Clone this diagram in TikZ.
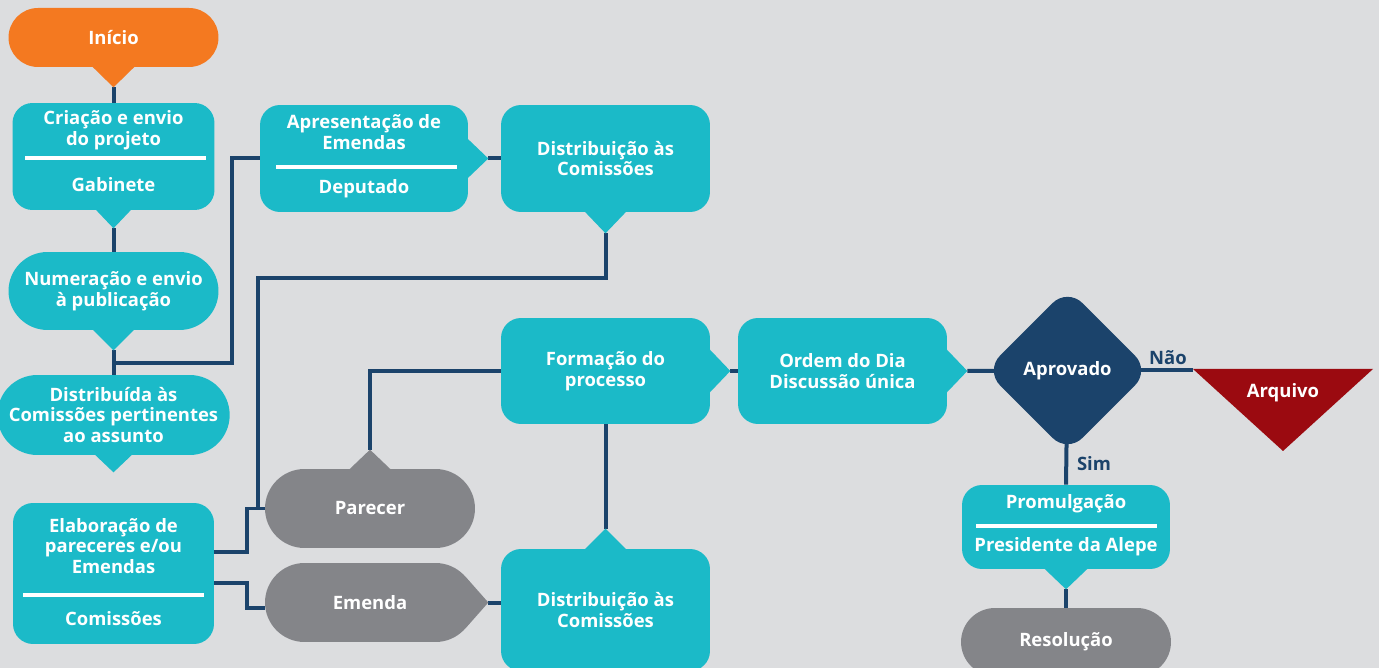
\documentclass[tikz,border=0pt]{standalone}
\usepackage{fontspec}
\setmainfont{Open Sans}
\usetikzlibrary{shapes.misc,shapes.geometric,positioning}

\definecolor{bgGray}{HTML}{DCDDDF}
\definecolor{tealBox}{HTML}{1BBAC8}
\definecolor{orangeBox}{HTML}{F47920}
\definecolor{navyLine}{HTML}{1B436B}
\definecolor{grayBox}{HTML}{848589}
\definecolor{redBox}{HTML}{9B0A10}

\pgfdeclarelayer{bg}
\pgfdeclarelayer{links}
\pgfsetlayers{bg,links,main}

% pointers of the callout boxes: node, colour, half base, depth
\newcommand{\tipdown}[4]{\fill[#2] ([xshift=-#3,yshift=0.04cm]#1.south) -- ([xshift=#3,yshift=0.04cm]#1.south) -- ([yshift=-#4]#1.south) coordinate (#1tip) -- cycle;}
\newcommand{\tipup}[4]{\fill[#2] ([xshift=-#3,yshift=-0.04cm]#1.north) -- ([xshift=#3,yshift=-0.04cm]#1.north) -- ([yshift=#4]#1.north) coordinate (#1tip) -- cycle;}
\newcommand{\tipright}[4]{\fill[#2] ([yshift=#3,xshift=-0.04cm]#1.east) -- ([yshift=-#3,xshift=-0.04cm]#1.east) -- ([xshift=#4]#1.east) coordinate (#1tip) -- cycle;}

\begin{document}
\begin{tikzpicture}[
    x=0.02cm, y=-0.02cm,
    txt/.style={text=white, font=\bfseries\fontsize{10.5}{11.9}\selectfont, align=center, inner sep=0pt},
    box/.style={rectangle, fill=tealBox, rounded corners=0.4cm, txt},
    pill/.style={rounded rectangle, fill=tealBox, txt},
    greypill/.style={rounded rectangle, fill=grayBox, txt},
    lbl/.style={text=navyLine, font=\bfseries\fontsize{10.5}{11.9}\selectfont, inner sep=0pt},
    sep/.style={draw=white, line width=0.07cm},
    link/.style={draw=navyLine, line width=0.08cm},
]
    \useasboundingbox (0,0) rectangle (1379,668);
    \begin{pgfonlayer}{bg}
        \fill[bgGray] (0,0) rectangle (1379,668);
    \end{pgfonlayer}

    % Left column
    \node[pill, fill=orangeBox, minimum width=4.2cm, minimum height=1.18cm] (inicio) at (113.5,37.5) {Início};
    \tipdown{inicio}{orangeBox}{0.45cm}{0.4cm}

    \node[box, minimum width=4.04cm, minimum height=2.14cm] (criacao) at (113.5,156.5) {};
    \tipdown{criacao}{tealBox}{0.38cm}{0.36cm}
    \node[txt] (criacaoA) at (113.5,130) {Criação e envio\\do projeto};
    \draw[sep] (25,158) -- (206,158);
    \node[txt] (criacaoB) at (113.5,185) {Gabinete};

    \node[pill, minimum width=4.2cm, minimum height=1.56cm] (numer) at (113.5,291) {Numeração e envio\\à publicação};
    \tipdown{numer}{tealBox}{0.44cm}{0.4cm}

    \node[pill, minimum width=4.28cm, minimum height=1.6cm] (distrib) at (113.5,415) {Distribuída às\\Comissões pertinentes\\ao assunto};
    \tipdown{distrib}{tealBox}{0.4cm}{0.34cm}

    \node[box, minimum width=4.02cm, minimum height=2.82cm] (elab) at (113.5,573.5) {};
    \node[txt] (elabA) at (113.5,546) {Elaboração de\\pareceres e/ou\\Emendas};
    \draw[sep] (23,595) -- (204,595);
    \node[txt] (elabB) at (113.5,619) {Comissões};

    % Upper row
    \node[box, minimum width=4.16cm, minimum height=2.14cm] (apres) at (364,158.5) {};
    \tipright{apres}{tealBox}{0.42cm}{0.4cm}
    \node[txt] (apresA) at (364,132) {Apresentação de\\Emendas};
    \draw[sep] (276,167) -- (457,167);
    \node[txt] (apresB) at (364,189) {Deputado};

    \node[box, minimum width=4.18cm, minimum height=2.14cm] (dist2) at (605.5,158.5) {Distribuição às\\Comissões};
    \tipdown{dist2}{tealBox}{0.44cm}{0.42cm}

    % Middle row
    \node[box, minimum width=4.18cm, minimum height=2.12cm] (form) at (605.5,371) {Formação do\\processo};
    \tipright{form}{tealBox}{0.46cm}{0.4cm}

    \node[box, minimum width=4.18cm, minimum height=2.12cm] (ordem) at (842.5,371) {Ordem do Dia\\Discussão única};
    \tipright{ordem}{tealBox}{0.46cm}{0.4cm}

    \node[diamond, fill=navyLine, rounded corners=0.42cm, minimum width=3.3cm, minimum height=3.3cm, txt] (aprov) at (1067.5,370.5) {Aprovado};

    \fill[redBox] (1193,369) coordinate (arqL) -- (1373,369) -- (1283,451) -- cycle;
    \node[txt] (arquivo) at (1283,393) {Arquivo};
    \node[lbl] (nao) at (1168,358) {Não};
    \node[lbl] (sim) at (1094,464) {Sim};

    % Lower part
    \node[greypill, minimum width=4.2cm, minimum height=1.58cm] (parecer) at (370,508.5) {Parecer};
    \tipup{parecer}{grayBox}{0.44cm}{0.38cm}

    \node[greypill, minimum width=4.2cm, minimum height=1.58cm] (emenda) at (370,602.5) {Emenda};
    \fill[grayBox] ([xshift=-0.2cm,yshift=0.52cm]emenda.east) -- ([xshift=0.26cm]emenda.east) coordinate (emendatip) -- ([xshift=-0.2cm,yshift=-0.52cm]emenda.east) -- cycle;

    \node[box, minimum width=4.18cm, minimum height=2.44cm] (dist3) at (605.5,610) {Distribuição às\\Comissões};
    \tipup{dist3}{tealBox}{0.44cm}{0.4cm}

    \node[box, minimum width=4.16cm, minimum height=1.68cm] (prom) at (1066,527) {};
    \tipdown{prom}{tealBox}{0.46cm}{0.4cm}
    \node[txt] (promA) at (1066,504) {Promulgação};
    \draw[sep] (976,526) -- (1157,526);
    \node[txt] (promB) at (1066,547) {Presidente da Alepe};

    \node[greypill, minimum width=4.2cm, minimum height=1.36cm] (resol) at (1066,642) {Resolução};

    % Connectors
    \begin{pgfonlayer}{links}
        \draw[link] (iniciotip) -- (criacao.north);
        \draw[link] (criacaotip) -- (numer.north);
        \draw[link] (numertip) -- (distrib.north);
        \draw[link] ([yshift=0.24cm]distrib.north) -| ([xshift=-0.56cm]apres.west) -- (apres.west);
        \draw[link] (aprestip) -- (dist2.west);
        \draw[link] (dist2tip) -- ++(0,45) -| ([xshift=-0.14cm]parecer.west);
        \draw[link] ([yshift=0.43cm]elab.east) -| ([xshift=-0.36cm]parecer.west) -- (parecer.west);
        \draw[link] ([yshift=-0.19cm]elab.east) -| ([xshift=-0.36cm,yshift=-0.1cm]emenda.west) -- ([yshift=-0.1cm]emenda.west);
        \draw[link] (emendatip) -- (emendatip -| dist3.west);
        \draw[link] (dist3tip) -- (form.south);
        \draw[link] (parecertip) |- (form.west);
        \draw[link] (formtip) -- (ordem.west);
        \draw[link] (ordemtip) -- (aprov.center);
        \draw[link] (aprov.center) -- (aprov -| arqL);
        \draw[link] (aprov.center) -- (prom.north);
        \draw[link] (promtip) -- (resol.north);
    \end{pgfonlayer}
\end{tikzpicture}
\end{document}
